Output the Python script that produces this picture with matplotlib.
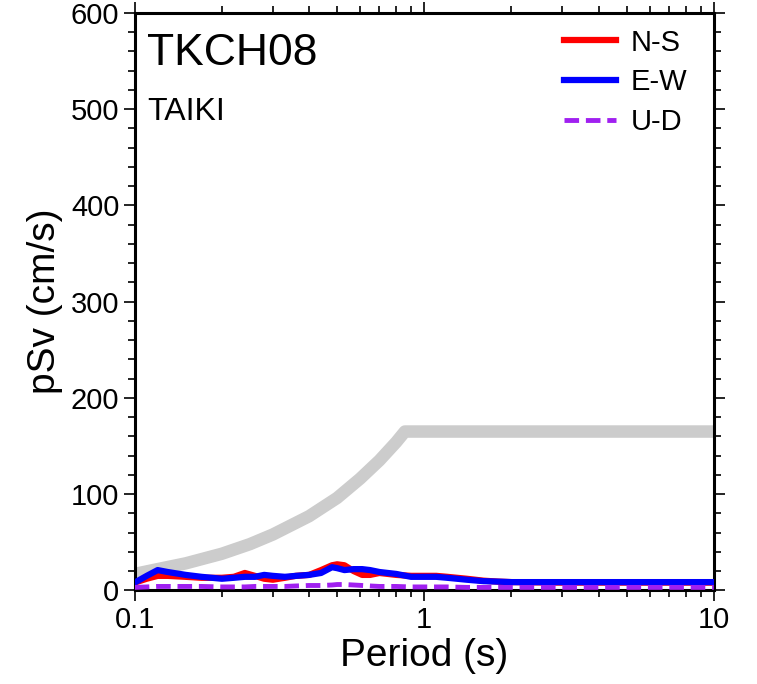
import numpy as np
import matplotlib
matplotlib.use("Agg")
from matplotlib import pyplot as plt
from matplotlib.ticker import LogLocator, MultipleLocator, FixedLocator, NullFormatter

plt.rcParams['font.family'] = ['Liberation Sans', 'DejaVu Sans']

# periods (s)
period = [0.1, 0.11, 0.12, 0.13, 0.15, 0.17, 0.2, 0.22, 0.24, 0.26, 0.28, 0.3,
          0.33, 0.36, 0.4, 0.44, 0.48, 0.5, 0.53, 0.57, 0.61, 0.65, 0.7, 0.8,
          0.9, 1.0, 1.1, 1.2, 1.4, 1.6, 1.8, 2.0, 3.0, 5.0, 7.0, 10.0]
ns = [8, 12, 15, 15, 14, 13, 13, 14, 18, 15, 12, 11,
      13, 15, 16, 21, 26, 27, 26, 20, 16, 16, 18, 16,
      15, 15, 15, 14, 12, 10, 9, 8.5, 8, 8, 8, 8]
ew = [8, 15, 21, 19, 16, 14, 12, 13, 14, 14, 16, 15,
      14, 15, 16, 18, 24, 23, 21, 22, 22, 21, 19, 17,
      14, 14, 14, 13, 11, 9.5, 9, 8.5, 8.5, 8.5, 8.5, 8.5]
ud = [3, 3.5, 4, 4, 4, 4, 3.5, 3.5, 3.5, 4, 4, 4,
      4, 4.5, 5, 5, 5.5, 6, 6, 5.5, 5, 4.5, 4, 4,
      3.5, 3.5, 3.5, 3.5, 3, 3, 3, 3, 3, 3, 3, 3]

# reference (design) spectrum
ref_period = [0.1, 0.12, 0.15, 0.2, 0.25, 0.3, 0.4, 0.5, 0.6, 0.7, 0.8, 0.857, 10.0]
ref_psv = [17, 22, 28, 38, 48, 58, 77, 96, 116, 135, 154, 165, 165]

station = "TKCH08"
site = "TAIKI"

fig = plt.figure(figsize=(7.57, 6.84), dpi=100)
ax = fig.add_axes([0.178, 0.137, 0.765, 0.844])

ax.plot(ref_period, ref_psv, color="#cccccc", lw=9, solid_capstyle="butt", zorder=1)
ax.plot(period, ns, color="red", lw=4.5, label="N-S", zorder=2)
ax.plot(period, ew, color="blue", lw=4.5, label="E-W", zorder=3)
ax.plot(period, ud, color="#a020f0", lw=3.5, ls=(0, (3, 1.4)), label="U-D", zorder=4)

ax.set_xscale("log")
ax.set_xlim(0.1, 10)
ax.set_ylim(0, 600)
ax.xaxis.set_major_locator(FixedLocator([0.1, 1, 10]))
ax.set_xticklabels(["0.1", "1", "10"])
ax.xaxis.set_minor_locator(LogLocator(base=10, subs=np.arange(2, 10)))
ax.xaxis.set_minor_formatter(NullFormatter())
ax.yaxis.set_major_locator(MultipleLocator(100))
ax.yaxis.set_minor_locator(MultipleLocator(20))

for s in ax.spines.values():
    s.set_linewidth(2.2)
ax.tick_params(which="both", direction="out", top=True, right=True,
               labeltop=False, labelright=False, width=1.2, labelsize=21)
ax.tick_params(which="major", length=8, pad=3)
ax.tick_params(which="minor", length=5)

ax.set_xlabel("Period (s)", fontsize=28, labelpad=3)
ax.set_ylabel("pSv (cm/s)", fontsize=28, labelpad=6)

ax.text(0.022, 0.965, station, transform=ax.transAxes, fontsize=32, va="top", ha="left")
ax.text(0.022, 0.855, site, transform=ax.transAxes, fontsize=23, va="top", ha="left")

leg = ax.legend(loc="upper right", bbox_to_anchor=(0.975, 0.993), fontsize=21,
                frameon=False, handlelength=1.8, handletextpad=0.5,
                labelspacing=0.4, borderaxespad=0)

fig.savefig("out.png", dpi=100)
